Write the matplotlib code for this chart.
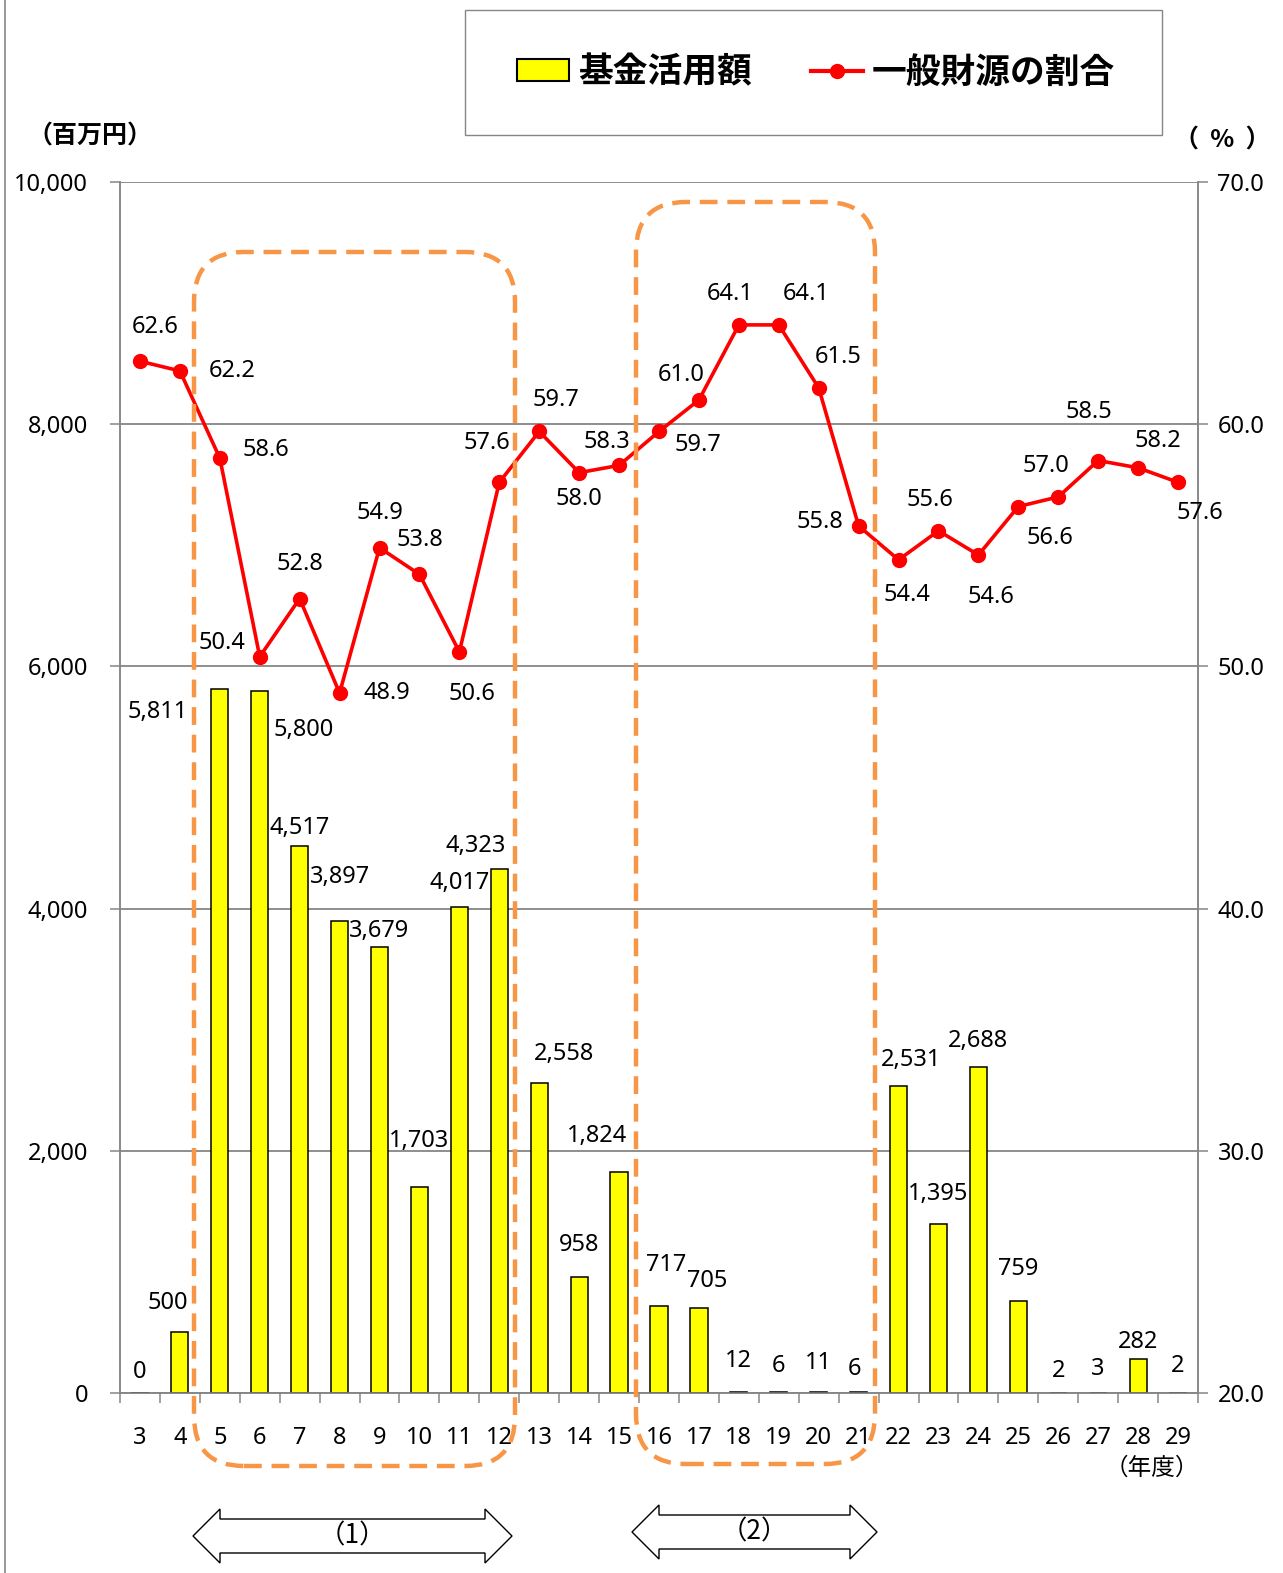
import numpy as np
import matplotlib
matplotlib.use("Agg")
import matplotlib.pyplot as plt
from matplotlib.patches import FancyBboxPatch, Polygon, Rectangle, Patch
from matplotlib.lines import Line2D
from matplotlib.ticker import FixedLocator, FuncFormatter

plt.rcParams['font.family'] = ['Noto Sans', 'Noto Sans CJK JP', 'DejaVu Sans']

# data
years = [str(y) for y in range(3, 30)]
fund_used = [0, 500, 5811, 5800, 4517, 3897, 3679, 1703, 4017, 4323, 2558, 958, 1824,
             717, 705, 12, 6, 11, 6, 2531, 1395, 2688, 759, 2, 3, 282, 2]
general_ratio = [62.6, 62.2, 58.6, 50.4, 52.8, 48.9, 54.9, 53.8, 50.6, 57.6, 59.7, 58.0, 58.3,
                 59.7, 61.0, 64.1, 64.1, 61.5, 55.8, 54.4, 55.6, 54.6, 56.6, 57.0, 58.5, 58.2, 57.6]

# label offsets (points) for the value labels
bar_off = [(0, 15), (-9, 21), (-45, -16), (32, -28), (0, 13), (0, 32), (0, 12), (0, 33), (0, 17),
           (-17, 17), (18, 21), (0, 23), (-16, 26), (5, 30), (6, 19), (0, 22), (0, 19), (0, 21),
           (-3, 17), (9, 19), (0, 22), (0, 19), (0, 23), (0, 16), (0, 17), (0, 12), (0, 19)]
line_off = [(11, 25), (38, 0), (33, 6), (-27, 10), (0, 25), (34, 0), (0, 25), (0, 25), (9, -30),
            (-9, 28), (12, 23), (0, -19), (-9, 17), (28, -10), (-13, 18), (-6, 22), (20, 22),
            (14, 22), (-28, 3), (6, -25), (-6, 22), (9, -30), (23, -23), (-9, 22), (-7, 35),
            (14, 19), (16, -22)]

W, H = 1283, 1573
fig = plt.figure(figsize=(W / 100, H / 100), dpi=100)
ax = fig.add_axes([120 / W, 1 - 1393 / H, (1198 - 120) / W, (1393 - 182) / H])
ax2 = ax.twinx()

grey = '#868686'
x = np.arange(len(years))

ax.bar(x, fund_used, width=0.43, color='#FFFF00', edgecolor='black', linewidth=1.1, zorder=3)
ax.set_xlim(-0.5, len(years) - 0.5)
ax.set_ylim(0, 10000)
ax.set_yticks(range(0, 10001, 2000))
ax.yaxis.set_major_formatter(FuncFormatter(lambda v, p: f"{int(v):,}"))
ax.grid(axis='y', color=grey, linewidth=1.3, zorder=0)
ax.set_axisbelow(True)
ax.set_xticks(x)
ax.set_xticklabels(years)
ax.xaxis.set_minor_locator(FixedLocator(np.arange(-0.5, len(years), 1)))
ax.tick_params(axis='x', which='major', length=0, pad=24, labelsize=17)
ax.tick_params(axis='x', which='minor', length=7, width=1.1, color=grey, direction='out')
ax.tick_params(axis='y', length=7, width=1.1, color=grey, labelsize=17, pad=16)

ax2.plot(x, general_ratio, color='#FF0000', linewidth=2.6, marker='o', markersize=10, zorder=4)
ax2.set_ylim(20, 70)
ax2.set_yticks(range(20, 71, 10))
ax2.yaxis.set_major_formatter(FuncFormatter(lambda v, p: f"{v:.1f}"))
ax2.tick_params(axis='y', length=7, width=1.1, color=grey, labelsize=17, pad=7)

for a in (ax, ax2):
    a.spines['top'].set_visible(False)
    for s in ('left', 'right', 'bottom'):
        a.spines[s].set_color(grey)
        a.spines[s].set_linewidth(1.1)

for i, v in enumerate(fund_used):
    ax.annotate(f"{v:,}", (x[i], v), xytext=bar_off[i], textcoords='offset points',
                ha='center', va='center', fontsize=17, zorder=5)
for i, v in enumerate(general_ratio):
    ax2.annotate(f"{v:.1f}", (x[i], v), xytext=line_off[i], textcoords='offset points',
                 ha='center', va='center', fontsize=17, zorder=5)

# dashed rounded boxes (inches from bottom-left)
orange = '#F79646'
for (x0, x1, y0, y1) in [(194, 515, 252, 1466), (636, 875, 202, 1464)]:
    box = FancyBboxPatch((x0 / 100, (H - y1) / 100), (x1 - x0) / 100, (y1 - y0) / 100,
                         boxstyle='round,pad=0,rounding_size=0.5', transform=fig.dpi_scale_trans,
                         fill=False, edgecolor=orange, linewidth=3.2, linestyle=(0, (4, 2.2)),
                         zorder=10)
    fig.add_artist(box)

# double-headed arrows
def block_arrow(x0, x1, yc, label):
    hh, sh, hl = 27, 17, 27
    pts = [(x0, yc), (x0 + hl, yc - hh), (x0 + hl, yc - sh), (x1 - hl, yc - sh), (x1 - hl, yc - hh),
           (x1, yc), (x1 - hl, yc + hh), (x1 - hl, yc + sh), (x0 + hl, yc + sh), (x0 + hl, yc + hh)]
    pts = [(px / 100, (H - py) / 100) for px, py in pts]
    fig.add_artist(Polygon(pts, closed=True, facecolor='white', edgecolor='black', linewidth=1,
                           transform=fig.dpi_scale_trans))
    fig.text((x0 + x1) / 2 / W, 1 - yc / H, label, ha='center', va='center', fontsize=19,
             family=['Noto Sans CJK JP'])

block_arrow(193, 512, 1536, '（1）')
block_arrow(632, 877, 1532, '（2）')

# unit labels
fig.text(90 / W, 1 - 137 / H, '（百万円）', ha='center', va='center', fontsize=18,
         family=['Noto Sans CJK JP'], fontweight='bold')
fig.text(1222 / W, 1 - 140 / H, '（  %  ）', ha='center', va='center', fontsize=18,
         family=['Noto Sans CJK JP'], fontweight='bold')
fig.text(1152 / W, 1 - 1468 / H, '（年度）', ha='center', va='center', fontsize=17,
         family=['Noto Sans CJK JP'])

# legend
fig.add_artist(Rectangle((465 / W, 1 - 135 / H), (1162 - 465) / W, 125 / H, transform=fig.transFigure,
                         fill=False, edgecolor=grey, linewidth=1))
handles = [Patch(facecolor='#FFFF00', edgecolor='black', linewidth=1.5),
           Line2D([], [], color='#FF0000', linewidth=3, marker='o', markersize=10)]
fig.legend(handles, ['基金活用額', '一般財源の割合'], loc='center', ncol=2, frameon=False,
           bbox_to_anchor=(816 / W, 1 - 72 / H), prop={'family': 'Noto Sans CJK JP', 'size': 25,
                                                       'weight': 'bold'},
           handlelength=1.5, handleheight=0.6, handletextpad=0.25, columnspacing=1.7)

# page border at left
fig.add_artist(Line2D([5 / W, 5 / W], [0, 1], transform=fig.transFigure, color=grey, linewidth=1.2))

fig.savefig('out.png', dpi=100)
